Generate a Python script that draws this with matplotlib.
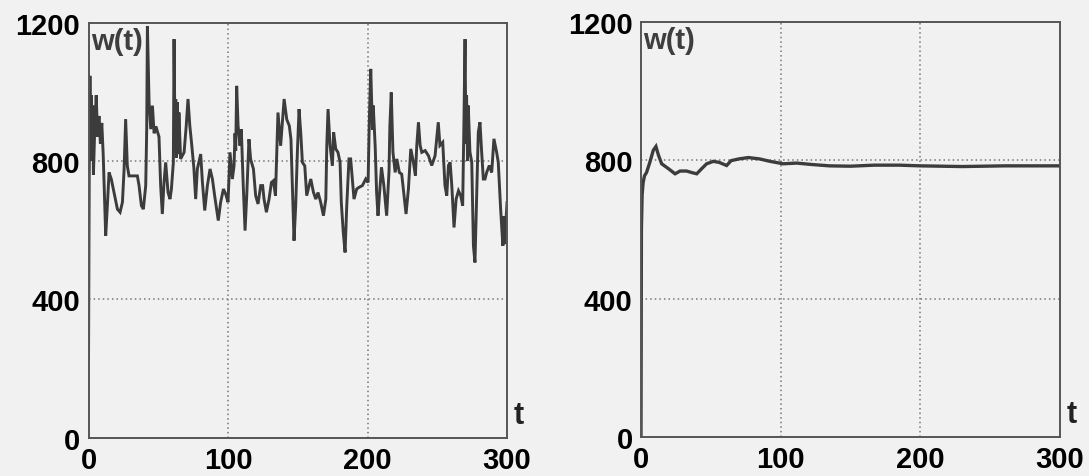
import matplotlib
matplotlib.use("Agg")
import matplotlib.pyplot as plt

# ---- data: left panel (noisy w(t)) ----
t_left = [0, 0.5, 1, 1.5, 2, 2.5, 3, 3.5, 4.5, 5.5, 6.5, 7.5, 8.5, 9.5, 10.5, 11.2, 12.3,
          13.5, 14.7, 16.3, 18.3, 20.7, 22.6, 24.3, 25.5, 26.6, 27.8, 29, 31.4, 35, 36.2,
          37.9, 39.3, 41, 41.7, 42.2, 43.4, 44.6, 45.8, 47, 48.3, 49.5, 50.5, 51.7, 52.9,
          54.1, 55.3, 57, 58.4, 59.4, 60.8, 61.3, 62, 62.5, 63, 63.6, 64.2, 64.8, 66, 68.5,
          70, 71.3, 72.6, 73.8, 75.5, 76.8, 78, 80.4, 81.6, 83.3, 85.2, 87.1, 88.8, 90.4,
          93, 94.7, 96.7, 98.3, 100, 101.4, 103.1, 104.3, 105, 105.5, 106.2, 107.2, 108.6,
          109.5, 110.9, 112.2, 113.4, 115, 116.2, 118.2, 119.8, 121.5, 123.4, 124.8, 125.8,
          127.5, 129.4, 131.1, 132.5, 134, 135.8, 137.7, 140.2, 142.1, 143.9, 145.1, 146.1,
          147.3, 148.5, 149.7, 150.9, 152.1, 153.3, 155, 156.4, 158.1, 159.3, 161.2, 162.9,
          164.5, 166.4, 168.4, 170.1, 170.8, 171.7, 173.1, 174.8, 175.7, 177.2, 178.8,
          180.3, 181.2, 182.6, 183.9, 185.1, 186.7, 187.9, 189.1, 190.3, 192.2, 193.9,
          196.3, 198.7, 200.4, 201.3, 202.3, 203.5, 204.1, 204.7, 205.5, 206.5, 207.5,
          208.5, 210, 211.7, 213.7, 215.4, 216, 217, 218.2, 219.8, 221, 222.8, 224.5, 226.2,
          227.6, 229.3, 231, 232.9, 234.3, 235.3, 236.5, 237.7, 238.9, 241.3, 243.7, 246,
          248.4, 250.7, 251.9, 253.9, 255.5, 256.8, 258, 259.2, 260.4, 262, 263.5, 265.2,
          266.8, 268.2, 269.1, 269.9, 270.5, 271, 271.7, 272.2, 273.4, 274.7, 275.9, 277,
          278.3, 279.4, 280.6, 281.8, 283, 284.2, 285.4, 287.3, 289, 290.6, 292.5, 293.7,
          295.4, 297, 297.8, 298.4, 299.3, 300]
w_left = [230, 760, 1046, 820, 990, 800, 960, 760, 900, 990, 870, 930, 850, 910, 820, 729, 584,
          671, 767, 748, 709, 661, 652, 681, 777, 921, 786, 757, 757, 757, 729,
          671, 661, 729, 892, 1190, 969, 892, 960, 880, 900, 883, 870, 729, 647,
          738, 796, 709, 690, 719, 796, 1152, 860, 979, 810, 970, 820, 940, 806, 825,
          900, 979, 902, 854, 780, 690, 777, 820, 740, 657, 729, 777, 748, 700,
          628, 681, 719, 705, 681, 825, 748, 786, 880, 830, 1017, 902, 844,
          892, 729, 599, 700, 863, 805, 777, 700, 676, 729, 729, 690,
          652, 690, 738, 743, 700, 940, 844, 979, 920, 902, 863, 729,
          570, 671, 825, 950, 883, 796, 786, 700, 729, 748, 710, 690,
          709, 681, 642, 690, 846, 950, 846, 786, 883, 835, 825,
          796, 680, 594, 536, 671, 806, 806, 748, 690, 719, 724,
          729, 748, 738, 921, 1066, 890, 960, 911, 840, 709, 642,
          700, 782, 729, 642, 770, 900, 998, 826, 767, 806, 767, 762, 700,
          647, 719, 835, 796, 758, 845, 912, 845, 825, 830, 815, 787,
          815, 912, 845, 854, 729, 700, 787, 796, 729, 608, 690, 714,
          700, 671, 912, 1152, 850, 990, 800, 960, 826, 797, 555, 507,
          710, 883, 912, 826, 748, 748, 767, 787, 767, 864, 826, 797,
          662, 555, 640, 560, 632, 680]

# ---- data: right panel (smooth w(t)) ----
t_right = [0, 0.3, 0.8, 1.5, 2.5, 4, 6.4, 8.8, 10.7, 12.5, 14.8, 19.6, 24.4, 28, 32.7, 36,
           39.9, 43.5, 47, 51.8, 56, 61.3, 64.5, 70, 76.9, 85, 92.4, 101.9, 111.5, 122,
           135, 150, 167, 185, 200, 230, 260, 300]
w_right = [0, 600, 700, 735, 755, 765, 795, 829, 840, 815, 790, 776, 761, 769, 769, 765,
           761, 776, 790, 797, 794, 785, 799, 804, 808, 804, 797, 790, 792, 788,
           784, 783, 786, 786, 784, 782, 784, 784]

x_ticks = [0, 100, 200, 300]
y_ticks = [0, 400, 800, 1200]
tick_labels_x = ["0", "100", "200", "300"]
tick_labels_y = ["0", "400", "800", "1200"]

BG = "#f1f1f1"
LINE = "#3c3c3c"
FONT = ["Liberation Sans", "DejaVu Sans"]

fig = plt.figure(figsize=(10.89, 4.77), dpi=100, facecolor=BG)
ax1 = fig.add_axes([0.0813, 0.0797, 0.3843, 0.871])
ax2 = fig.add_axes([0.5886, 0.0818, 0.3848, 0.870])

for ax, t, w, lw in [(ax1, t_left, w_left, 2.1), (ax2, t_right, w_right, 2.4)]:
    ax.set_facecolor(BG)
    ax.plot(t, w, color=LINE, lw=lw, solid_joinstyle="miter")
    ax.set_xlim(0, 300)
    ax.set_ylim(0, 1200)
    ax.set_xticks(x_ticks)
    ax.set_yticks(y_ticks)
    ax.set_xticklabels(tick_labels_x, fontfamily=FONT, fontweight="bold", fontsize=21)
    ax.set_yticklabels(tick_labels_y, fontfamily=FONT, fontweight="bold", fontsize=21)
    ax.tick_params(length=0, pad=6)
    for g in [100, 200]:
        ax.axvline(g, color="#777777", lw=1.1, ls=(0, (1, 2)), zorder=0)
    for g in [400, 800]:
        ax.axhline(g, color="#777777", lw=1.1, ls=(0, (1, 2)), zorder=0)
    for s in ax.spines.values():
        s.set_color("#555555")
        s.set_linewidth(1.4)
    ax.text(0.006, 0.99, "w(t)", transform=ax.transAxes, ha="left", va="top",
            fontfamily=FONT, fontweight="bold", fontsize=21, color="#3e3e3e")
    ax.text(1.027, 0.055, "t", transform=ax.transAxes, ha="center", va="center",
            fontfamily=FONT, fontweight="bold", fontsize=22, color="#222222")

fig.savefig("out.png", dpi=100, facecolor=BG)
